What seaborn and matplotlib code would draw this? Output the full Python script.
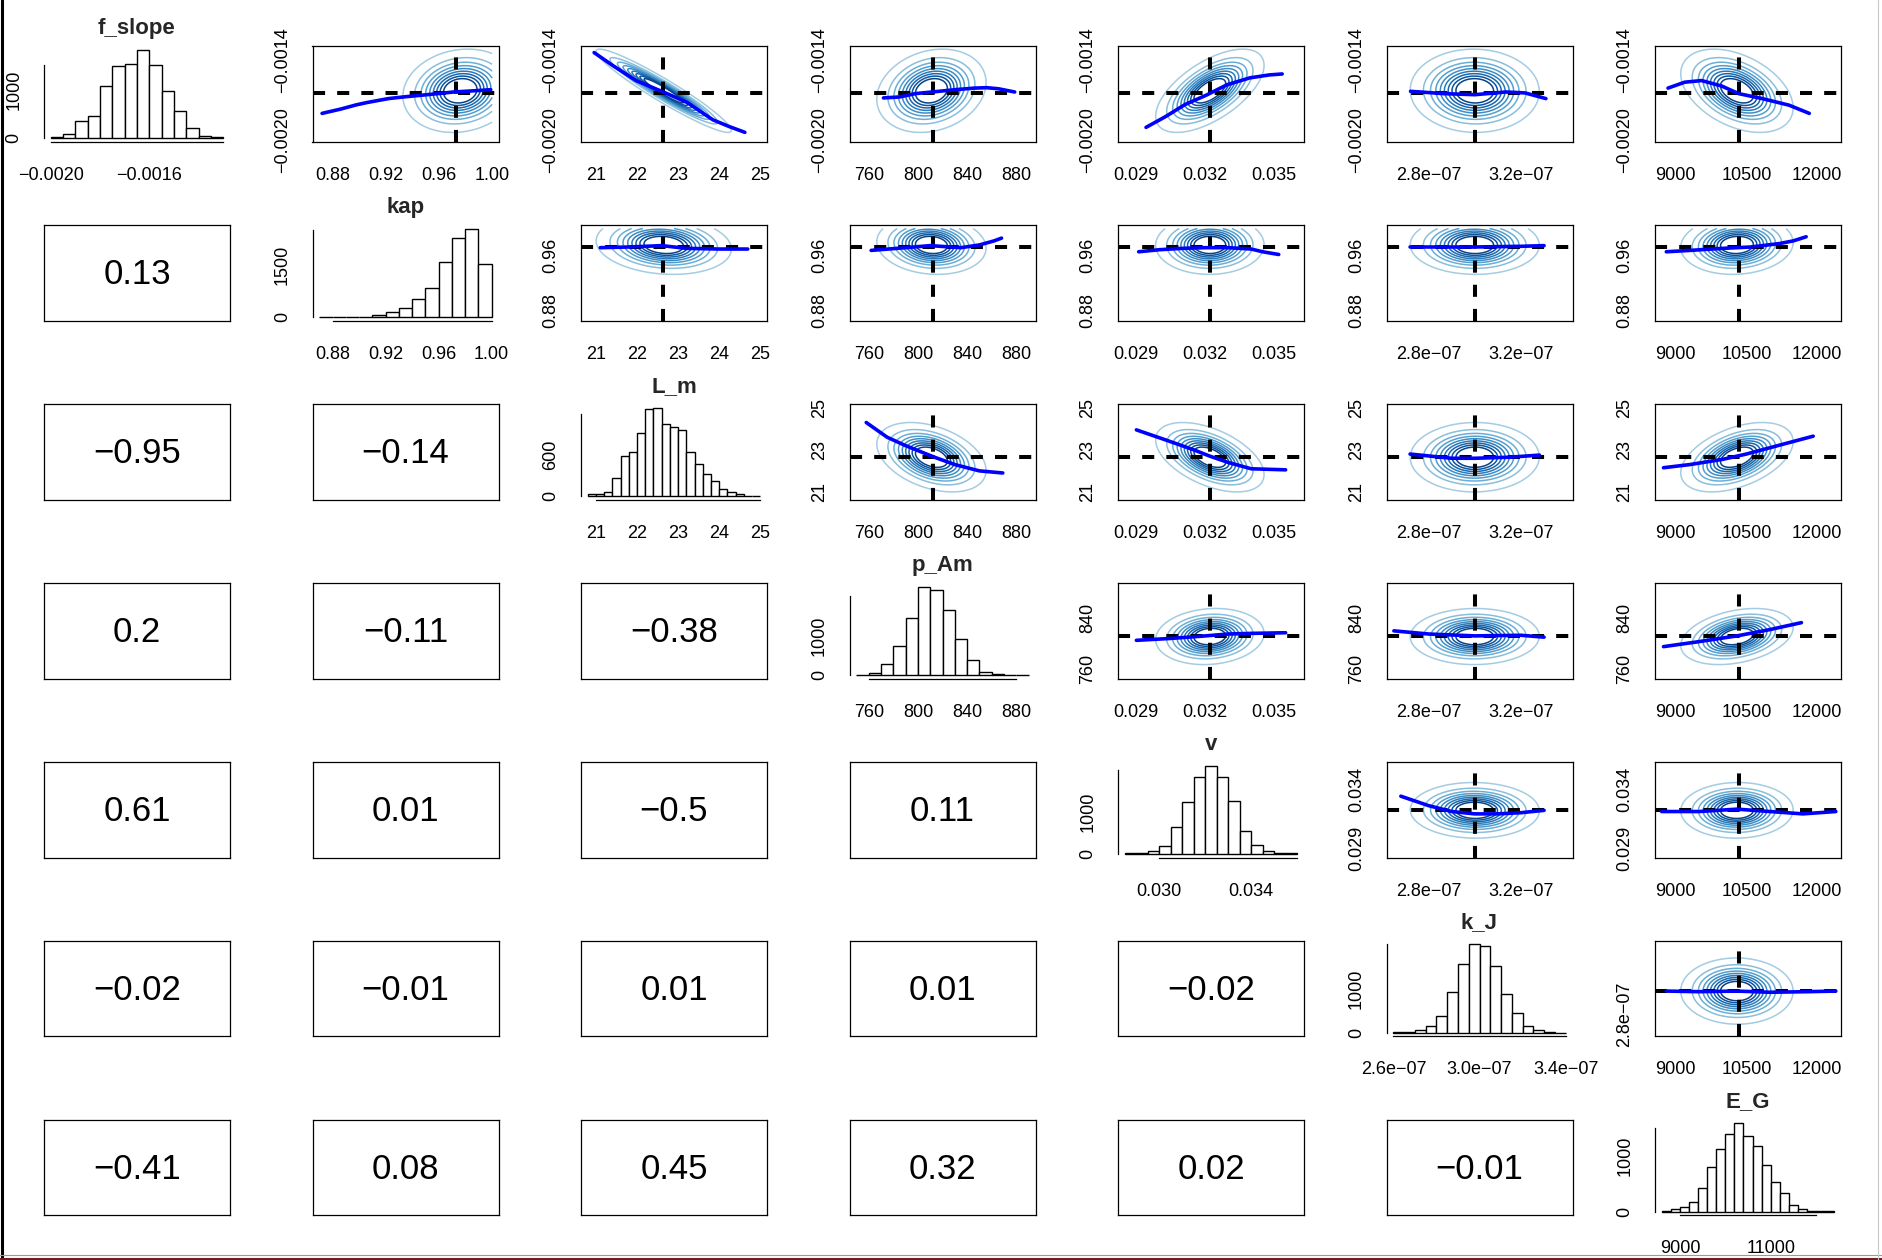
import numpy as np
import pandas as pd
import matplotlib
matplotlib.use("Agg")
import matplotlib.pyplot as plt
import seaborn as sns
from matplotlib.lines import Line2D

sns.set_style("white")
plt.rcParams["font.family"] = ["Liberation Sans", "DejaVu Sans"]

names = ["f_slope", "kap", "L_m", "p_Am", "v", "k_J", "E_G"]

# ---------------- histogram data (first edge, bin width, counts) ----------------
f_slope_bin0, f_slope_binw = -0.0020, 0.00005
f_slope_counts = [20, 81, 345, 459, 1074, 1473, 1520, 1804, 1500, 959, 554, 203, 41, 20]
kap_bin0, kap_binw = 0.87, 0.01
kap_counts = [0, 0, 3, 20, 66, 162, 266, 532, 855, 1596, 2280, 2546, 1520]
L_m_bin0, L_m_binw = 20.8, 0.2
L_m_counts = [35, 35, 65, 260, 585, 640, 925, 1270, 1285, 1055, 1005, 955, 640, 470,
              320, 220, 105, 65, 35, 5, 3]
p_Am_bin0, p_Am_binw = 750, 10
p_Am_counts = [3, 43, 273, 741, 1448, 2240, 2155, 1644, 911, 383, 85, 34, 5, 2]
v_bin0, v_binw = 0.0285, 0.0005
v_counts = [16, 16, 71, 182, 655, 1240, 1832, 2110, 1832, 1264, 545, 213, 71, 16, 16]
k_J_bin0, k_J_binw = 2.6e-7, 0.05e-7
k_J_counts = [15, 30, 74, 155, 385, 925, 1548, 1990, 1960, 1495, 873, 437, 155, 74, 30, 7]
E_G_bin0, E_G_binw = 8600, 200
E_G_counts = [18, 41, 89, 171, 431, 808, 1133, 1398, 1587, 1351, 1174, 844, 537, 330,
              124, 41, 18, 6, 18]

# ---------------- histogram axis ticks / labels ----------------
f_slope_hist_xt = [-0.0020, -0.0019, -0.0018, -0.0017, -0.0016, -0.0015, -0.0014, -0.0013]
f_slope_hist_xl = ["−0.0020", "", "", "", "−0.0016", "", "", ""]
f_slope_hist_yt = [0, 500, 1000, 1500]
f_slope_hist_yl = ["0", "", "1000", ""]
kap_hist_xt = [0.88, 0.90, 0.92, 0.94, 0.96, 0.98, 1.00]
kap_hist_xl = ["0.88", "", "0.92", "", "0.96", "", "1.00"]
kap_hist_yt = [0, 500, 1000, 1500, 2000, 2500]
kap_hist_yl = ["0", "", "", "1500", "", ""]
L_m_hist_xt = [21, 22, 23, 24, 25]
L_m_hist_xl = ["21", "22", "23", "24", "25"]
L_m_hist_yt = [0, 200, 400, 600, 800, 1000, 1200]
L_m_hist_yl = ["0", "", "", "600", "", "", ""]
p_Am_hist_xt = [760, 780, 800, 820, 840, 860, 880]
p_Am_hist_xl = ["760", "", "800", "", "840", "", "880"]
p_Am_hist_yt = [0, 500, 1000, 1500, 2000]
p_Am_hist_yl = ["0", "", "1000", "", ""]
v_hist_xt = [0.030, 0.032, 0.034, 0.036]
v_hist_xl = ["0.030", "", "0.034", ""]
v_hist_yt = [0, 500, 1000, 1500, 2000]
v_hist_yl = ["0", "", "1000", "", ""]
k_J_hist_xt = [2.6e-7, 2.8e-7, 3.0e-7, 3.2e-7, 3.4e-7]
k_J_hist_xl = ["2.6e−07", "", "3.0e−07", "", "3.4e−07"]
k_J_hist_yt = [0, 500, 1000, 1500, 2000]
k_J_hist_yl = ["0", "", "1000", "", ""]
E_G_hist_xt = [9000, 10000, 11000, 12000]
E_G_hist_xl = ["9000", "", "11000", ""]
E_G_hist_yt = [0, 500, 1000, 1500]
E_G_hist_yl = ["0", "", "1000", ""]

# ---------------- pair-panel axes ----------------
f_slope_lim = (-0.00201, -0.00130)
kap_lim = (0.8648, 1.0048)
L_m_lim = (20.63, 25.17)
p_Am_lim = (744.4, 895.6)
v_lim = (0.0282, 0.0363)
k_J_lim = (2.618e-7, 3.423e-7)
E_G_lim = (8560, 12510)

f_slope_pt = [-0.0020, -0.0019, -0.0018, -0.0017, -0.0016, -0.0015, -0.0014]
f_slope_pyl = ["−0.0020", "", "", "", "", "", "−0.0014"]
kap_pt = [0.88, 0.90, 0.92, 0.94, 0.96, 0.98, 1.00]
kap_pxl = ["0.88", "", "0.92", "", "0.96", "", "1.00"]
kap_pyl = ["0.88", "", "", "", "0.96", "", ""]
L_m_pt = [21, 21.5, 22, 22.5, 23, 23.5, 24, 24.5, 25]
L_m_pxl = ["21", "", "22", "", "23", "", "24", "", "25"]
L_m_pyl = ["21", "", "", "", "23", "", "", "", "25"]
p_Am_pt = [760, 770, 780, 790, 800, 810, 820, 830, 840, 850, 860, 870, 880]
p_Am_pxl = ["760", "", "", "", "800", "", "", "", "840", "", "", "", "880"]
p_Am_pyl = ["760", "", "", "", "", "", "", "", "840", "", "", "", ""]
v_pt = [0.029, 0.030, 0.031, 0.032, 0.033, 0.034, 0.035, 0.036]
v_pxl = ["0.029", "", "", "0.032", "", "", "0.035", ""]
v_pyl = ["0.029", "", "", "", "", "0.034", "", ""]
k_J_pt = [2.8e-7, 3.0e-7, 3.2e-7, 3.4e-7]
k_J_pxl = ["2.8e−07", "", "3.2e−07", ""]
k_J_pyl = ["2.8e−07", "", "", ""]
E_G_pt = [9000, 9500, 10000, 10500, 11000, 11500, 12000]
E_G_pxl = ["9000", "", "", "10500", "", "", "12000"]

# reference (dashed) values
ref_vals = [-0.00165, 0.9725, 22.64, 812.4, 0.0322, 3.0e-7, 10335]
# centre / spread used for the density contours
contour_mean = [-0.00163, 0.976, 22.65, 811, 0.0322, 3.0e-7, 10300]
contour_sd = [0.000122, 0.017, 0.65, 17.5, 0.00093, 0.11e-7, 470]

# correlations (lower triangle, row by row)
corr_kap = [0.13]
corr_L_m = [-0.95, -0.14]
corr_p_Am = [0.2, -0.11, -0.38]
corr_v = [0.61, 0.01, -0.5, 0.11]
corr_k_J = [-0.02, -0.01, 0.01, 0.01, -0.02]
corr_E_G = [-0.41, 0.08, 0.45, 0.32, 0.02, -0.01]

# smoother points: (x list, y list)
smooth_row0 = {
    1: ([0.872, 0.886, 0.898, 0.906, 0.922, 0.933, 0.951, 0.971, 0.988, 0.999],
        [-0.001798, -0.001766, -0.001734, -0.001717, -0.001688, -0.001676, -0.001659, -0.001639, -0.001629, -0.001622]),
    2: ([20.95, 21.39, 21.97, 22.64, 23.22, 23.85, 24.24, 24.63],
        [-0.001346, -0.001439, -0.001554, -0.001639, -0.001717, -0.001846, -0.001895, -0.001939]),
    3: ([772, 785, 798, 811.5, 830, 846, 856, 865.5, 878.7],
        [-0.001683, -0.001676, -0.001651, -0.001639, -0.001622, -0.00161, -0.001607, -0.001615, -0.001639]),
    4: ([0.02942, 0.03027, 0.03112, 0.03204, 0.03295, 0.03394, 0.03479, 0.03535],
        [-0.001902, -0.001822, -0.001732, -0.001663, -0.001585, -0.001534, -0.001512, -0.001505]),
    5: ([2.722e-7, 2.865e-7, 3.0e-7, 3.135e-7, 3.218e-7, 3.308e-7],
        [-0.001634, -0.001651, -0.001659, -0.001639, -0.001646, -0.001688]),
    6: ([8836, 9193, 9550, 9979, 10336, 10836, 11407, 11836],
        [-0.00161, -0.001566, -0.001554, -0.001595, -0.001651, -0.001688, -0.001737, -0.001798]),
}
smooth_row1 = {
    2: ([21.1, 21.8, 22.6, 23.2, 24.0, 24.7], [0.972, 0.973, 0.975, 0.971, 0.970, 0.970]),
    3: ([762, 790, 810, 835, 850, 862, 868], [0.968, 0.972, 0.975, 0.972, 0.976, 0.982, 0.986]),
    4: ([0.0291, 0.0300, 0.031, 0.032, 0.033, 0.034, 0.0345, 0.0352],
        [0.966, 0.969, 0.971, 0.972, 0.972, 0.970, 0.966, 0.962]),
    5: ([2.72e-7, 3.0e-7, 3.2e-7, 3.3e-7], [0.973, 0.973, 0.974, 0.975]),
    6: ([8800, 9300, 10000, 10600, 11200, 11500, 11770], [0.966, 0.968, 0.971, 0.973, 0.978, 0.982, 0.988]),
}
smooth_row2 = {
    3: ([758, 775, 790, 813, 830, 850, 869], [24.3, 23.6, 23.2, 22.66, 22.3, 22.0, 21.9]),
    4: ([0.0290, 0.0302, 0.0315, 0.0322, 0.033, 0.034, 0.0355], [23.95, 23.5, 23.0, 22.7, 22.4, 22.1, 22.05]),
    5: ([2.72e-7, 2.9e-7, 3.0e-7, 3.15e-7, 3.28e-7], [22.8, 22.6, 22.6, 22.65, 22.75]),
    6: ([8740, 9300, 10000, 10500, 11000, 11500, 11920], [22.15, 22.3, 22.55, 22.8, 23.1, 23.4, 23.65]),
}
smooth_row3 = {
    4: ([0.0290, 0.0305, 0.032, 0.033, 0.034, 0.0355], [805, 808, 812, 815, 816, 817]),
    5: ([2.65e-7, 2.8e-7, 3.0e-7, 3.2e-7, 3.3e-7], [820, 815, 812, 813, 810]),
    6: ([8740, 9500, 10300, 11000, 11670], [795, 803, 812, 822, 833]),
}
smooth_row4 = {
    5: ([2.68e-7, 2.8e-7, 2.9e-7, 3.0e-7, 3.1e-7, 3.2e-7, 3.3e-7],
        [0.0334, 0.0326, 0.0321, 0.0319, 0.0319, 0.0320, 0.0322]),
    6: ([8700, 9500, 10300, 11000, 11700, 12400], [0.0321, 0.0321, 0.0323, 0.0321, 0.0319, 0.0321]),
}
smooth_row5 = {
    6: ([8800, 9500, 10300, 11000, 11800, 12400], [3.0e-7, 2.995e-7, 3.0e-7, 2.99e-7, 2.995e-7, 3.0e-7]),
}

# ---------------- assemble ----------------
bins0 = [f_slope_bin0, kap_bin0, L_m_bin0, p_Am_bin0, v_bin0, k_J_bin0, E_G_bin0]
binws = [f_slope_binw, kap_binw, L_m_binw, p_Am_binw, v_binw, k_J_binw, E_G_binw]
counts_all = [f_slope_counts, kap_counts, L_m_counts, p_Am_counts, v_counts, k_J_counts, E_G_counts]
hist_xt = [f_slope_hist_xt, kap_hist_xt, L_m_hist_xt, p_Am_hist_xt, v_hist_xt, k_J_hist_xt, E_G_hist_xt]
hist_xl = [f_slope_hist_xl, kap_hist_xl, L_m_hist_xl, p_Am_hist_xl, v_hist_xl, k_J_hist_xl, E_G_hist_xl]
hist_yt = [f_slope_hist_yt, kap_hist_yt, L_m_hist_yt, p_Am_hist_yt, v_hist_yt, k_J_hist_yt, E_G_hist_yt]
hist_yl = [f_slope_hist_yl, kap_hist_yl, L_m_hist_yl, p_Am_hist_yl, v_hist_yl, k_J_hist_yl, E_G_hist_yl]
lims = [f_slope_lim, kap_lim, L_m_lim, p_Am_lim, v_lim, k_J_lim, E_G_lim]
pair_t = [f_slope_pt, kap_pt, L_m_pt, p_Am_pt, v_pt, k_J_pt, E_G_pt]
pair_xl = [None, kap_pxl, L_m_pxl, p_Am_pxl, v_pxl, k_J_pxl, E_G_pxl]
pair_yl = [f_slope_pyl, kap_pyl, L_m_pyl, p_Am_pyl, v_pyl, k_J_pyl, None]
corr_rows = [[], corr_kap, corr_L_m, corr_p_Am, corr_v, corr_k_J, corr_E_G]
smooth = [smooth_row0, smooth_row1, smooth_row2, smooth_row3, smooth_row4, smooth_row5, {}]

edges_all = [b0 + bw * np.arange(len(c) + 1) for b0, bw, c in zip(bins0, binws, counts_all)]

W, H = 1882, 1260
fig = plt.figure(figsize=(W / 100, H / 100), dpi=100)
fig.patch.set_facecolor("white")
X0, DX, PW = 44.0, 268.5, 186.0
Y0, DY, PH = 46.4, 178.9, 95.5

TICK = dict(direction="out", length=7, width=0.8, color="black", labelsize=13,
            labelcolor="black")


def panel(i, j):
    l = X0 + DX * j
    t = Y0 + DY * i
    return fig.add_axes([l / W, 1 - (t + PH) / H, PW / W, PH / H])


def style_ticks(ax):
    ax.tick_params(**TICK)
    ax.tick_params(axis="x", pad=11)
    ax.tick_params(axis="y", pad=8.5)


blues = sns.color_palette("Blues", 13)[4:13]
levels = [0.04 + 0.09 * k for k in range(9)]


def fmt_corr(c):
    return f"{c:g}".replace("-", "−")


for i in range(7):
    for j in range(7):
        ax = panel(i, j)
        ax.set_facecolor("white")
        if i == j:
            edges = edges_all[i]
            cnt = counts_all[i]
            mids = (edges[:-1] + edges[1:]) / 2
            hdf = pd.DataFrame({"x": mids, "w": np.asarray(cnt, dtype=float)})
            sns.histplot(data=hdf, x="x", weights="w", bins=list(edges), ax=ax, stat="count",
                         color="white", edgecolor="black", linewidth=1.0, alpha=1.0)
            rng = edges[-1] - edges[0]
            ax.set_xlim(edges[0] - 0.04 * rng, edges[-1] + 0.04 * rng)
            m = max(cnt)
            ax.set_ylim(-0.04 * m, 1.04 * m)
            ax.set_xlabel("")
            ax.set_ylabel("")
            for s in ["top", "right"]:
                ax.spines[s].set_visible(False)
            for s in ["left", "bottom"]:
                ax.spines[s].set_color("black")
                ax.spines[s].set_linewidth(0.9)
            ax.spines["left"].set_bounds(hist_yt[i][0], hist_yt[i][-1])
            ax.spines["bottom"].set_bounds(hist_xt[i][0], hist_xt[i][-1])
            ax.set_xticks(hist_xt[i], hist_xl[i])
            ax.set_yticks(hist_yt[i], hist_yl[i], rotation=90, va="center")
            style_ticks(ax)
            ax.set_title(names[i], fontweight="bold", fontsize=16, pad=9)
        elif i < j:
            rho = corr_rows[j][i]
            ex, ey = edges_all[j], edges_all[i]
            gx = np.linspace(ex[0], ex[-1], 220)
            gy = np.linspace(ey[0], ey[-1], 220)
            GX, GY = np.meshgrid(gx, gy)
            zx = (GX - contour_mean[j]) / contour_sd[j]
            zy = (GY - contour_mean[i]) / contour_sd[i]
            Z = np.exp(-(zx ** 2 - 2 * rho * zx * zy + zy ** 2) / (2 * (1 - rho ** 2)))
            ax.contour(GX, GY, Z, levels=levels, colors=blues, linewidths=1.1)
            ax.axhline(ref_vals[i], color="black", lw=2.9, ls=(0, (3, 3)), zorder=3)
            ax.axvline(ref_vals[j], color="black", lw=2.9, ls=(0, (3, 3)), zorder=3)
            sx, sy = smooth[i][j]
            sdf = pd.DataFrame({"x": sx, "y": sy})
            sns.lineplot(data=sdf, x="x", y="y", ax=ax, color="#0000FF", lw=2.6, sort=False,
                         estimator=None, zorder=4, solid_capstyle="round")
            ax.set_xlabel("")
            ax.set_ylabel("")
            ax.set_xlim(*lims[j])
            ax.set_ylim(*lims[i])
            ax.set_xticks(pair_t[j], pair_xl[j])
            ax.set_yticks(pair_t[i], pair_yl[i], rotation=90, va="center")
            style_ticks(ax)
            for s in ax.spines.values():
                s.set_color("black")
                s.set_linewidth(0.9)
        else:
            ax.set_xticks([])
            ax.set_yticks([])
            for s in ax.spines.values():
                s.set_color("black")
                s.set_linewidth(0.9)
            ax.text(0.5, 0.48, fmt_corr(corr_rows[i][j]), transform=ax.transAxes,
                    ha="center", va="center", fontsize=25, color="black")

# window frame lines
fig.add_artist(Line2D([1.5 / W, 1.5 / W], [0, 1], transform=fig.transFigure, color="black", lw=2.2))
fig.add_artist(Line2D([0, 1], [1 - 1255 / H] * 2, transform=fig.transFigure, color="#9a9a9a", lw=0.8))
fig.add_artist(Line2D([0, 1], [1 - 1258.5 / H] * 2, transform=fig.transFigure, color="#6e2020", lw=2.2))
fig.add_artist(Line2D([1877.5 / W] * 2, [0, 1], transform=fig.transFigure, color="#c8c8c8", lw=0.8))

fig.savefig("out.png", dpi=100, facecolor="white")
